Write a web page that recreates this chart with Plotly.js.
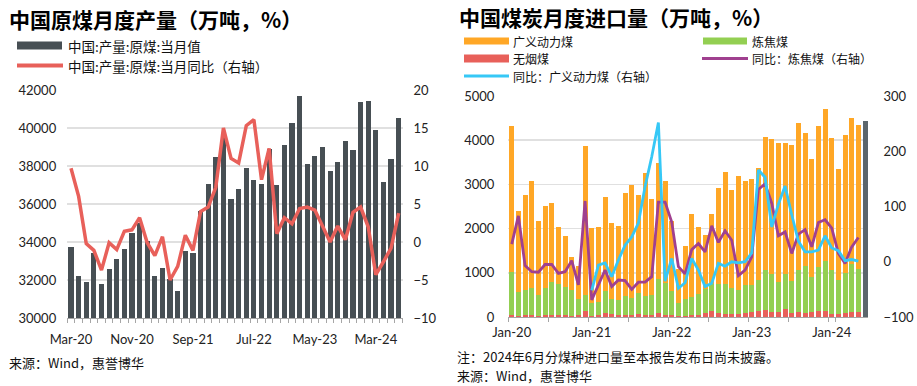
<!DOCTYPE html>
<html><head><meta charset="utf-8">
<script src="https://cdn.plot.ly/plotly-3.0.1.min.js"></script>
<style>html,body{margin:0;padding:0;background:#fff}#chart{width:917px;height:386px}</style>
</head><body><div id="chart"></div>
<script>
// ---------- Left chart: China raw coal production ----------
const prodMonths = ['Mar-20','Apr-20','May-20','Jun-20','Jul-20','Aug-20','Sep-20','Oct-20','Nov-20','Dec-20',
  'Mar-21','Apr-21','May-21','Jun-21','Jul-21','Aug-21','Sep-21','Oct-21','Nov-21','Dec-21',
  'Mar-22','Apr-22','May-22','Jun-22','Jul-22','Aug-22','Sep-22','Oct-22','Nov-22','Dec-22',
  'Mar-23','Apr-23','May-23','Jun-23','Jul-23','Aug-23','Sep-23','Oct-23','Nov-23','Dec-23',
  'Mar-24','Apr-24','May-24','Jun-24'];
const prodValue = [33721,32195,31895,33405,31789,32561,33087,33650,34491,34982,
  34053,32211,32614,32035,31404,33509,33404,35649,37053,38456,
  39590,36263,36789,37912,37263,37035,38895,37000,39105,40246,
  41702,38123,38526,38982,37737,38193,39298,38860,41368,41404,
  39912,37158,38368,40509];
const prodYoY = [9.7,6.0,-0.2,-1.1,-3.7,-0.1,-1.0,1.4,1.6,3.2,
  -0.1,-1.8,0.7,-5.0,-3.2,0.9,-1.1,4.0,4.6,7.2,
  15.0,11.0,10.4,15.3,16.1,8.2,12.3,1.1,3.2,2.4,
  4.4,4.6,4.2,2.0,0.0,2.1,0.3,3.9,4.6,2.0,
  -4.3,-2.6,-0.8,3.8];
const prodTickLabels = ['Mar-20','Nov-20','Sep-21','Jul-22','May-23','Mar-24'];

// ---------- Right chart: China coal imports ----------
const impMonths = ['Jan-20','Feb-20','Mar-20','Apr-20','May-20','Jun-20','Jul-20','Aug-20','Sep-20','Oct-20','Nov-20','Dec-20',
  'Jan-21','Feb-21','Mar-21','Apr-21','May-21','Jun-21','Jul-21','Aug-21','Sep-21','Oct-21','Nov-21','Dec-21',
  'Jan-22','Feb-22','Mar-22','Apr-22','May-22','Jun-22','Jul-22','Aug-22','Sep-22','Oct-22','Nov-22','Dec-22',
  'Jan-23','Feb-23','Mar-23','Apr-23','May-23','Jun-23','Jul-23','Aug-23','Sep-23','Oct-23','Nov-23','Dec-23',
  'Jan-24','Feb-24','Mar-24','Apr-24','May-24','Jun-24'];
const thermal = [3308,1835,2158,2406,1676,1850,1797,1293,1165,736,744,3391,
  1699,1707,2128,1729,1677,2338,2571,2226,2782,2180,2617,2301,
  1571,774,1211,1872,1519,1233,1586,2165,2519,2218,2578,2354,
  2398,2541,3015,3061,3143,2985,3090,3330,3008,2669,3188,3421,
  2985,2504,3128,3293,3278,null];
const coking = [977,541,566,622,474,619,742,717,642,587,366,346,
  286,298,489,346,341,429,371,481,426,439,767,727,
  549,286,376,411,466,542,609,662,682,592,547,629,
  609,692,918,849,676,774,715,955,1075,789,1000,1143,
  1000,782,895,1090,962,null];
const anthracite = [38,30,35,40,30,35,40,35,35,30,40,143,
  30,40,90,60,50,45,50,60,55,50,90,40,
  45,30,30,40,45,90,128,90,70,70,70,85,
  113,135,150,113,113,188,90,113,90,113,135,135,
  60,60,90,113,113,null];
const totalUndisclosed = [null,null,null,null,null,null,null,null,null,null,null,null,
  null,null,null,null,null,null,null,null,null,null,null,null,
  null,null,null,null,null,null,null,null,null,null,null,null,
  null,null,null,null,null,null,null,null,null,null,null,null,
  null,null,null,null,null,4436];
const cokingYoY = [32,83,-7,-18,-19,-5,-5,-21,-18,2,-42,110,
  -69,-42,-15,-45,-33,-34,-50,-37,-37,-27,108,108,
  72,-9,-22,22,33,18,65,35,56,39,-25,-15,
  9,131,141,106,47,54,15,50,58,27,71,76,
  61,15,-3,27,44,null];
const thermalYoY = [null,null,null,null,null,null,null,null,null,null,null,null,
  -52,-6,-2,-27,3,30,45,70,136,190,252,-35,
  6,-48,-38,6,-15,-45,-39,-3,-8,0,-2,0,
  16,166,153,63,104,137,85,37,18,18,21,47,
  25,20,2,4,1,null];
const impTickLabels = ['Jan-20','Jan-21','Jan-22','Jan-23','Jan-24'];

// ---------- build ----------
const W = 917, H = 386;
const px = x => x / W, py = y => 1 - y / H;
const CJK = '"Noto Sans CJK SC", "Noto Sans", sans-serif';
const NUM = 'Lato, "Noto Sans", sans-serif';

const leftTickText = prodMonths.map(m => prodTickLabels.includes(m) ? m : '');
const rightTickVals = impMonths.filter((m, i) => i % 6 === 0);
const rightTickText = rightTickVals.map(m => impTickLabels.includes(m) ? m : '');

const traces = [
  {type:'bar', x:prodMonths, y:prodValue, xaxis:'x', yaxis:'y', marker:{color:'#474f54'},
   width:0.68, name:'中国:产量:原煤:当月值', showlegend:false},
  {type:'scatter', mode:'lines', x:prodMonths, y:prodYoY, xaxis:'x', yaxis:'y2',
   line:{color:'#e8605a', width:3.5}, name:'中国:产量:原煤:当月同比（右轴）', showlegend:false},
  {type:'bar', x:impMonths, y:anthracite, xaxis:'x2', yaxis:'y3', marker:{color:'#e8605a'},
   width:0.75, name:'无烟煤', showlegend:false},
  {type:'bar', x:impMonths, y:coking, xaxis:'x2', yaxis:'y3', marker:{color:'#93cf52'},
   width:0.75, name:'炼焦煤', showlegend:false},
  {type:'bar', x:impMonths, y:thermal, xaxis:'x2', yaxis:'y3', marker:{color:'#ffa726'},
   width:0.75, name:'广义动力煤', showlegend:false},
  {type:'bar', x:impMonths, y:totalUndisclosed, xaxis:'x2', yaxis:'y3', marker:{color:'#5c666c'},
   width:0.75, name:'合计', showlegend:false},
  {type:'scatter', mode:'lines', x:impMonths, y:cokingYoY, xaxis:'x2', yaxis:'y4',
   line:{color:'#a0408f', width:2.8}, name:'同比：炼焦煤（右轴）', showlegend:false},
  {type:'scatter', mode:'lines', x:impMonths, y:thermalYoY, xaxis:'x2', yaxis:'y4',
   line:{color:'#36c8f6', width:2.8}, name:'同比：广义动力煤（右轴）', showlegend:false}
];

const tickFont = {family:NUM, size:13, color:'#222'};
const legFont = {family:CJK, size:13.5, color:'#111'};
const legFontR = {family:CJK, size:12, color:'#111'};
function label(text, x, y, font) {
  return {text:text, x:px(x), y:py(y), xref:'paper', yref:'paper', xanchor:'left', yanchor:'middle',
    showarrow:false, borderpad:0, font:font};
}
const r1 = 41, r2 = 58.5, r3 = 76;
const layout = {
  width:W, height:H, margin:{l:0,r:0,t:0,b:0},
  paper_bgcolor:'#fff', plot_bgcolor:'#fff',
  barmode:'stack', showlegend:false,
  font:{family:CJK, color:'#111'},
  xaxis:{domain:[px(67.2), px(402.5)], anchor:'y', type:'category',
    tickmode:'array', tickvals:prodMonths, ticktext:leftTickText, tickson:'boundaries',
    ticks:'outside', ticklen:4, tickcolor:'#a6a6a6', tickangle:0, ticklabelstandoff:9,
    showline:true, linecolor:'#a6a6a6', linewidth:1, showgrid:false,
    tickfont:tickFont},
  yaxis:{domain:[py(318), py(90)], anchor:'x', range:[30000,42000], dtick:2000,
    showgrid:true, gridcolor:'#e0e0e0', gridwidth:1.5, zeroline:false, ticks:'',
    ticklabelstandoff:10, tickfont:tickFont, tickformat:'d'},
  yaxis2:{overlaying:'y', side:'right', anchor:'x', range:[-10,20], dtick:5,
    showgrid:false, zeroline:false, ticks:'', ticklabelstandoff:10, tickfont:tickFont},
  xaxis2:{domain:[px(508.4), px(868.4)], anchor:'y3', type:'category',
    tickmode:'array', tickvals:rightTickVals, ticktext:rightTickText, tickson:'boundaries',
    ticks:'outside', ticklen:4, tickcolor:'#a6a6a6', tickangle:0, ticklabelstandoff:3,
    showline:true, linecolor:'#a6a6a6', linewidth:1, showgrid:false,
    tickfont:tickFont},
  yaxis3:{domain:[py(317), py(96)], anchor:'x2', range:[0,5000], dtick:1000,
    showgrid:true, gridcolor:'#e0e0e0', gridwidth:1.5, zeroline:false, ticks:'',
    ticklabelstandoff:13, tickfont:tickFont, tickformat:'d'},
  yaxis4:{overlaying:'y3', side:'right', anchor:'x2', range:[-100,300], dtick:100,
    showgrid:false, zeroline:false, ticks:'', ticklabelstandoff:14, tickfont:tickFont},
  shapes:[
    {type:'rect', xref:'paper', yref:'paper', x0:px(17), x1:px(62), y0:py(49.5), y1:py(41.5), fillcolor:'#474f54', line:{width:0}},
    {type:'line', xref:'paper', yref:'paper', x0:px(17), x1:px(63), y0:py(65.5), y1:py(65.5), line:{color:'#e8605a', width:4}},
    {type:'rect', xref:'paper', yref:'paper', x0:px(464), x1:px(509), y0:py(r1+3.5), y1:py(r1-3.5), fillcolor:'#ffa726', line:{width:0}},
    {type:'rect', xref:'paper', yref:'paper', x0:px(703), x1:px(747), y0:py(r1+3.5), y1:py(r1-3.5), fillcolor:'#93cf52', line:{width:0}},
    {type:'rect', xref:'paper', yref:'paper', x0:px(464), x1:px(509), y0:py(r2+4), y1:py(r2-4), fillcolor:'#e8605a', line:{width:0}},
    {type:'line', xref:'paper', yref:'paper', x0:px(702), x1:px(748), y0:py(r2), y1:py(r2), line:{color:'#a0408f', width:3}},
    {type:'line', xref:'paper', yref:'paper', x0:px(464), x1:px(509), y0:py(r3), y1:py(r3), line:{color:'#36c8f6', width:3}}
  ],
  annotations:[
    label('<b>中国原煤月度产量（万吨，%）</b>', 8, 19, {family:CJK, size:21, color:'#000'}),
    label('<b>中国煤炭月度进口量（万吨，%）</b>', 458, 16.5, {family:CJK, size:21, color:'#000'}),
    label('中国:产量:原煤:当月值', 67, 46, legFont),
    label('中国:产量:原煤:当月同比（右轴）', 67, 66, legFont),
    label('广义动力煤', 512, r1, legFontR),
    label('炼焦煤', 751, r1, legFontR),
    label('无烟煤', 512, r2, legFontR),
    label('同比：炼焦煤（右轴）', 751, r2, legFontR),
    label('同比：广义动力煤（右轴）', 512, r3, legFontR),
    label('来源：Wind，惠誉博华', 8, 362, {family:CJK, size:13, color:'#111'}),
    label('注：2024年6月分煤种进口量至本报告发布日尚未披露。', 456, 356, {family:CJK, size:13, color:'#111'}),
    label('来源：Wind，惠誉博华', 456, 375, {family:CJK, size:13, color:'#111'})
  ]
};
Plotly.newPlot('chart', traces, layout, {displayModeBar:false, staticPlot:true});
</script></body></html>
